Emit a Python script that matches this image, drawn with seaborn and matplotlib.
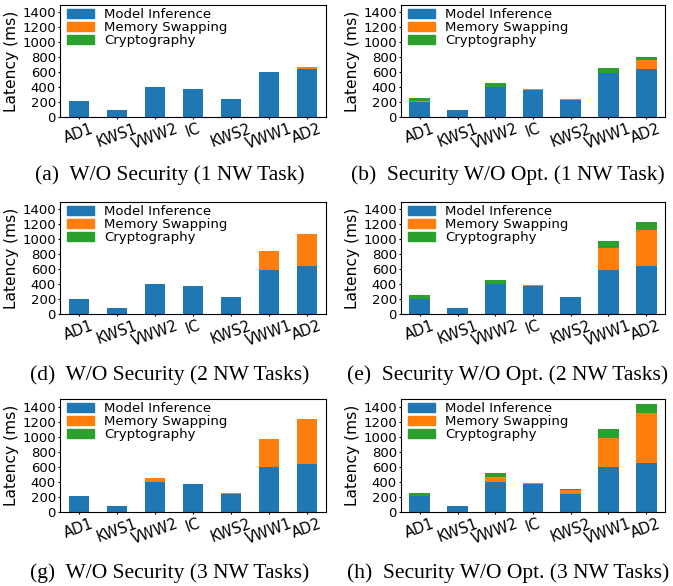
import numpy as np
import matplotlib
matplotlib.use("Agg")
import matplotlib.pyplot as plt
from matplotlib.patches import Patch
import seaborn as sns

# задачи на оси x
tasks = ["AD1", "KWS1", "VWW2", "IC", "KWS2", "VWW1", "AD2"]

# (a) W/O Security, 1 NW task
a_infer = [210, 90, 400, 375, 240, 605, 640]
a_swap = [0, 0, 0, 0, 0, 0, 32]
a_crypto = [0, 0, 0, 0, 0, 0, 0]
# (b) Security W/O Opt., 1 NW task
b_infer = [200, 90, 400, 360, 226, 595, 645]
b_swap = [10, 0, 0, 14, 12, 0, 123]
b_crypto = [43, 0, 56, 0, 0, 64, 40]
# (d) W/O Security, 2 NW tasks
d_infer = [207, 86, 396, 369, 234, 595, 640]
d_swap = [0, 0, 0, 0, 0, 247, 432]
d_crypto = [0, 0, 0, 0, 0, 0, 0]
# (e) Security W/O Opt., 2 NW tasks
e_infer = [207, 81, 396, 369, 221, 594, 639]
e_swap = [0, 0, 0, 18, 13, 288, 486]
e_crypto = [41, 0, 54, 0, 0, 95, 108]
# (g) W/O Security, 3 NW tasks
g_infer = [208, 86, 394, 371, 235, 602, 643]
g_swap = [0, 0, 59, 0, 14, 367, 598]
g_crypto = [0, 0, 0, 0, 0, 0, 0]
# (h) Security W/O Opt., 3 NW tasks
h_infer = [208, 86, 394, 371, 235, 602, 657]
h_swap = [0, 0, 73, 14, 55, 381, 652]
h_crypto = [41, 0, 54, 0, 13, 122, 122]

captions = [
    "(a)  W/O Security (1 NW Task)",
    "(b)  Security W/O Opt. (1 NW Task)",
    "(d)  W/O Security (2 NW Tasks)",
    "(e)  Security W/O Opt. (2 NW Tasks)",
    "(g)  W/O Security (3 NW Tasks)",
    "(h)  Security W/O Opt. (3 NW Tasks)",
]
panels = [
    (a_infer, a_swap, a_crypto),
    (b_infer, b_swap, b_crypto),
    (d_infer, d_swap, d_crypto),
    (e_infer, e_swap, e_crypto),
    (g_infer, g_swap, g_crypto),
    (h_infer, h_swap, h_crypto),
]

c_infer = "#1f77b4"
c_swap = "#ff7f0e"
c_crypto = "#2ca02c"

W, H = 673, 586
fig = plt.figure(figsize=(W / 100, H / 100), dpi=100)

# расположение осей в пикселях: (left, right), (top, bottom)
cols = [(60, 326), (401, 665)]
rows = [(5, 117), (202, 314), (399, 512)]
cap_y = [175, 375, 573]
cap_x = [170, 508]


def draw_panel(ax, infer, swap, crypto):
    infer = np.array(infer)
    swap = np.array(swap)
    crypto = np.array(crypto)
    # рисуем слоями: сумма -> без криптографии -> только инференс
    for vals, col in [(infer + swap + crypto, c_crypto), (infer + swap, c_swap), (infer, c_infer)]:
        sns.barplot(x=tasks, y=vals, color=col, width=0.55, saturation=1,
                    linewidth=0, errorbar=None, ax=ax)
    ax.set_ylim(0, 1500)
    ax.set_yticks(range(0, 1401, 200))
    ax.set_ylabel("Latency (ms)", fontsize=11.2, labelpad=2)
    ax.tick_params(axis="both", length=1.5, pad=1.5)
    ax.tick_params(axis="y", labelsize=9.5)
    ax.tick_params(axis="x", labelsize=10.5, rotation=20)
    handles = [Patch(color=c_infer), Patch(color=c_swap), Patch(color=c_crypto)]
    ax.legend(handles, ["Model Inference", "Memory Swapping", "Cryptography"],
              loc="upper left", bbox_to_anchor=(0.012, 1.01), frameon=False,
              fontsize=9.5, labelspacing=0.0, borderaxespad=0, borderpad=0.3,
              handlelength=2.0)


for i, (infer, swap, crypto) in enumerate(panels):
    r, c = divmod(i, 2)
    (x0, x1), (y0, y1) = cols[c], rows[r]
    ax = fig.add_axes([x0 / W, 1 - y1 / H, (x1 - x0) / W, (y1 - y0) / H])
    draw_panel(ax, infer, swap, crypto)
    fig.text(cap_x[c] / W, 1 - cap_y[r] / H, captions[i], ha="center", va="center",
             fontsize=15.5, family="Liberation Serif")

fig.savefig("out.png", dpi=100)
